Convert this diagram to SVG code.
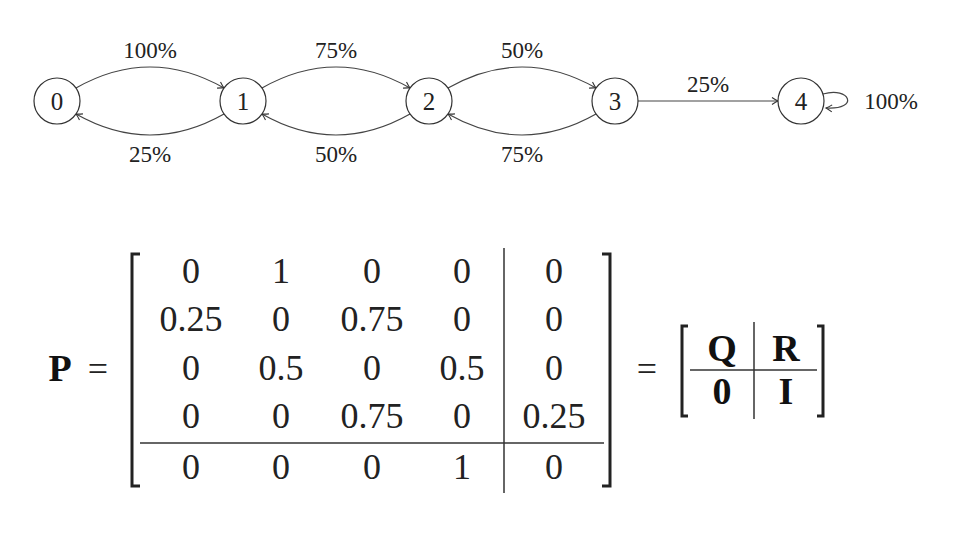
<svg xmlns="http://www.w3.org/2000/svg" width="960" height="540" viewBox="0 0 960 540">
<defs>
<style>
.node circle{fill:#fff;stroke:#333;stroke-width:1.2}
.nl{font-family:"Liberation Serif",serif;font-size:25px;fill:#222;text-anchor:middle}
.el{font-family:"Liberation Serif",serif;font-size:23px;fill:#222;text-anchor:middle}
.edge{fill:none;stroke:#444;stroke-width:1.2;marker-end:url(#ah)}
.m{font-family:"Liberation Serif",serif;font-size:36px;fill:#222;text-anchor:middle}
.b{font-family:"Liberation Serif",serif;font-size:38px;font-weight:bold;fill:#111;text-anchor:middle}
.ln{stroke:#333;stroke-width:1.5;fill:none}
.br{stroke:#222;stroke-width:3;fill:none}
</style>
<marker id="ah" markerWidth="10" markerHeight="10" refX="8" refY="5" orient="auto" markerUnits="userSpaceOnUse">
<path d="M2,1.5 Q6,4.2 8,5 Q6,5.8 2,8.5" fill="none" stroke="#333" stroke-width="1.1"/>
</marker>
</defs>
<rect width="960" height="540" fill="#fff"/>
<g id="connectors">
<path class="edge" d="M76,88 Q150,46 224,88"/>
<path class="edge" d="M224,114 Q150,156 76,114"/>
<path class="edge" d="M262,88 Q336,46 410,88"/>
<path class="edge" d="M410,114 Q336,156 262,114"/>
<path class="edge" d="M448,88 Q522,46 596,88"/>
<path class="edge" d="M596,114 Q522,156 448,114"/>
<path class="edge" d="M638,101 L778,101"/>
<path class="edge" d="M823,94 C850,86 860,110 826,108"/>
<text class="el" x="150" y="58">100%</text>
<text class="el" x="150" y="162">25%</text>
<text class="el" x="336" y="58">75%</text>
<text class="el" x="336" y="162">50%</text>
<text class="el" x="522" y="58">50%</text>
<text class="el" x="522" y="162">75%</text>
<text class="el" x="708" y="92">25%</text>
<text class="el" x="891" y="109">100%</text>
</g>
<g id="n0" class="node"><circle cx="57" cy="101" r="23"/><text class="nl" x="57" y="110">0</text></g>
<g id="n1" class="node"><circle cx="243" cy="101" r="23"/><text class="nl" x="243" y="110">1</text></g>
<g id="n2" class="node"><circle cx="429" cy="101" r="23"/><text class="nl" x="429" y="110">2</text></g>
<g id="n3" class="node"><circle cx="615" cy="101" r="23"/><text class="nl" x="615" y="110">3</text></g>
<g id="n4" class="node"><circle cx="801" cy="101" r="23"/><text class="nl" x="801" y="110">4</text></g>
<g id="matrix">
<text class="b" x="60" y="381">P</text>
<text class="m" x="98" y="381">=</text>
<path class="br" d="M140,254 L132,254 L132,486 L140,486"/>
<path class="br" d="M602,254 L610,254 L610,486 L602,486"/>
<line class="ln" x1="140" y1="443" x2="604" y2="443"/>
<line class="ln" x1="504" y1="248" x2="504" y2="493"/>
<g class="m">
<text x="191" y="283">0</text><text x="281" y="283">1</text><text x="372" y="283">0</text><text x="462" y="283">0</text><text x="554" y="283">0</text>
<text x="191" y="331">0.25</text><text x="281" y="331">0</text><text x="372" y="331">0.75</text><text x="462" y="331">0</text><text x="554" y="331">0</text>
<text x="191" y="380">0</text><text x="281" y="380">0.5</text><text x="372" y="380">0</text><text x="462" y="380">0.5</text><text x="554" y="380">0</text>
<text x="191" y="428">0</text><text x="281" y="428">0</text><text x="372" y="428">0.75</text><text x="462" y="428">0</text><text x="554" y="428">0.25</text>
<text x="191" y="479">0</text><text x="281" y="479">0</text><text x="372" y="479">0</text><text x="462" y="479">1</text><text x="554" y="479">0</text>
</g>
<text class="m" x="647" y="381">=</text>
<path class="br" d="M688,326 L682,326 L682,416 L688,416"/>
<path class="br" d="M817,326 L823,326 L823,416 L817,416"/>
<line class="ln" x1="690" y1="370" x2="817" y2="370"/>
<line class="ln" x1="754" y1="322" x2="754" y2="419"/>
<text class="b" x="722" y="361">Q</text>
<text class="b" x="786" y="361">R</text>
<text class="b" x="722" y="404">0</text>
<text class="b" x="786" y="404">I</text>
</g>
</svg>
